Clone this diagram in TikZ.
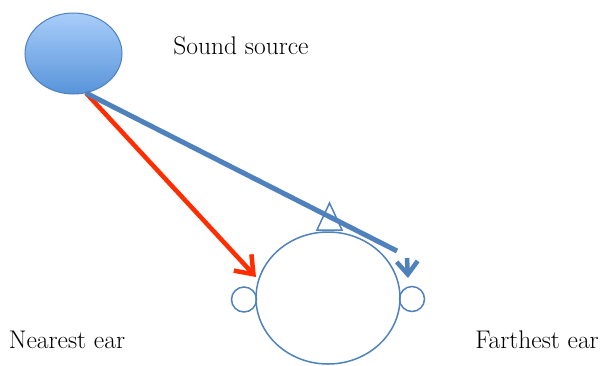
\documentclass[tikz,border=0pt]{standalone}
\usepackage{tikz}
\usetikzlibrary{shapes.geometric,arrows.meta,positioning}

\begin{document}
\begin{tikzpicture}[x=1pt,y=-1pt]
%
\useasboundingbox (0,0) rectangle (609,365);
%
\definecolor{cline}{RGB}{79,129,189}
\definecolor{ctop}{RGB}{168,205,250}
\definecolor{cbot}{RGB}{88,148,218}
\definecolor{cred}{RGB}{255,45,0}
%
\tikzset{
  srcshape/.style={ellipse,minimum width=97pt,minimum height=81pt,draw=cline,line width=1pt,top color=ctop,bottom color=cbot},
  headshape/.style={ellipse,minimum width=144pt,minimum height=132pt,draw=cline,line width=1.5pt},
  earshape/.style={circle,minimum size=25pt,inner sep=0pt,draw=cline,line width=1.5pt},
  lbl/.style={font=\fontsize{25.5}{30}\selectfont},
  redarrow/.style={draw=cred,line width=4.5pt,-{Straight Barb[length=16pt,width=24pt]}},
  blueline/.style={draw=cline,line width=5pt},
  bluearrow/.style={draw=cline,line width=4.5pt,-{Straight Barb[length=13pt,width=21pt]}},
}
%
\node[srcshape] (src) at (73.5,53.5) {};
\node[headshape] (head) at (328,298) {};
\node[earshape] (nearEar) at (244,299.5) {};
\node[earshape] (farEar) at (412,299) {};
%
\draw[cline,line width=1.5pt] (317,230) -- (329.5,203) -- (342,230) -- cycle;
%
\node[lbl] (srcLabel) at (241,46) {Sound source};
\node[lbl] (nearLabel) at (67,340) {Nearest ear};
\node[lbl] (farLabel) at (537,340) {Farthest ear};
%
\coordinate (start) at (86,93);
\coordinate (nearTip) at (256,277);
\coordinate (farEnd) at (397,251);
\coordinate (farStem) at (407,258);
\coordinate (farTip) at (408,278);
%
\draw[redarrow] (start) -- (nearTip);
\draw[blueline] (start) -- (farEnd);
\draw[bluearrow] (farStem) -- (farTip);
%
\end{tikzpicture}
\end{document}
